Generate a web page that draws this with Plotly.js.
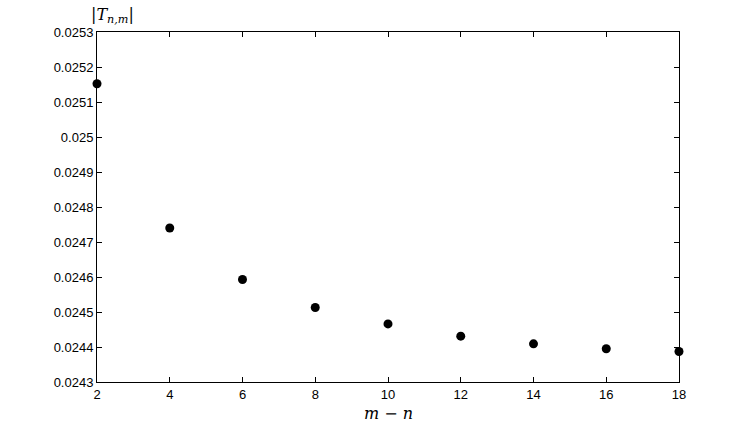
<!DOCTYPE html>
<html>
<head>
<meta charset="utf-8">
<script src="https://cdn.plot.ly/plotly-3.0.1.min.js"></script>
<style>html,body{margin:0;padding:0;background:#fff;}#chart{width:750px;height:431px;}</style>
</head>
<body>
<div id="chart"></div>
<script>
var mMinusN = [2, 4, 6, 8, 10, 12, 14, 16, 18];
var absT = [0.025152, 0.024740, 0.024593, 0.024513, 0.024466, 0.024431, 0.024409, 0.024395, 0.024387];
var xTickVals = [2, 4, 6, 8, 10, 12, 14, 16, 18];
var yTickVals = [0.0243, 0.0244, 0.0245, 0.0246, 0.0247, 0.0248, 0.0249, 0.0250, 0.0251, 0.0252, 0.0253];
var yTickText = ["0.0243", "0.0244", "0.0245", "0.0246", "0.0247", "0.0248", "0.0249", "0.025", "0.0251", "0.0252", "0.0253"];

var trace = {
  x: mMinusN, y: absT, type: 'scatter', mode: 'markers',
  marker: {color: '#000', size: 9},
  cliponaxis: false, hoverinfo: 'none'
};
var axisCommon = {
  showgrid: false, zeroline: false, showline: true, linecolor: '#000', linewidth: 1,
  mirror: 'ticks', ticks: 'inside', ticklen: 5, tickcolor: '#000', tickwidth: 1,
  tickfont: {family: 'Liberation Sans, Arial, sans-serif', size: 13, color: '#000'}
};
var layout = {
  width: 750, height: 431,
  margin: {l: 97, r: 71, t: 32, b: 49},
  paper_bgcolor: '#fff', plot_bgcolor: '#fff',
  showlegend: false,
  xaxis: Object.assign({}, axisCommon, {range: [2, 18], tickvals: xTickVals, ticktext: xTickVals.map(String)}),
  yaxis: Object.assign({}, axisCommon, {range: [0.0243, 0.0253], tickvals: yTickVals, ticktext: yTickText}),
  annotations: [
    {text: '|<i>T</i><sub><i>n,m</i></sub>|', xref: 'paper', yref: 'paper', x: 0.026, y: 1.0, yshift: 4,
     xanchor: 'center', yanchor: 'bottom', showarrow: false,
     font: {family: 'DejaVu Serif, Liberation Serif, serif', size: 16, color: '#000'}},
    {text: '<i>m</i> − <i>n</i>', xref: 'paper', yref: 'paper', x: 0.5, y: 0, yshift: -20,
     xanchor: 'center', yanchor: 'top', showarrow: false,
     font: {family: 'DejaVu Serif, Liberation Serif, serif', size: 16, color: '#000'}}
  ]
};
Plotly.newPlot('chart', [trace], layout, {staticPlot: true, displayModeBar: false});
</script>
</body>
</html>
